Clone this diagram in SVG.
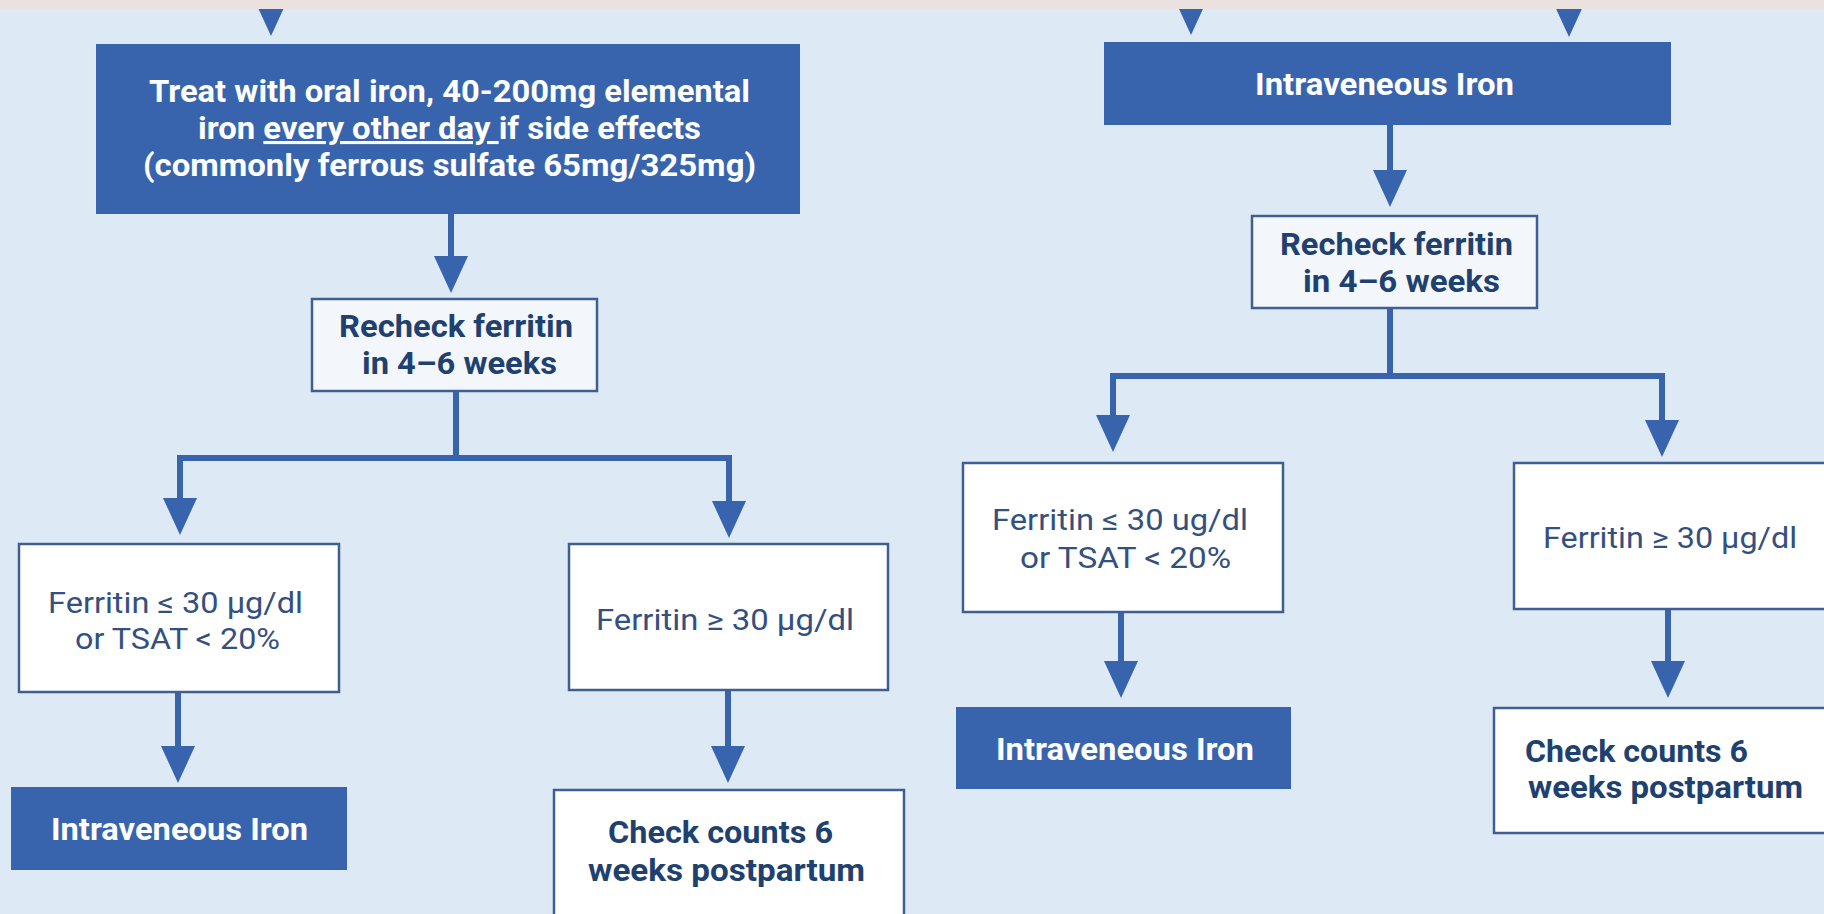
<svg xmlns="http://www.w3.org/2000/svg" width="1824" height="914" viewBox="0 0 1824 914">
<defs>
<marker id="ah" viewBox="0 0 37 34" markerWidth="37" markerHeight="34" markerUnits="userSpaceOnUse" refX="7" refY="17" orient="auto">
<path d="M0,0 L37,17 L0,34 Z" fill="#3864AD"/>
</marker>
<style>
.bg{fill:#DDEAF6}
.band{fill:#EBE2E0}
.solid{fill:#3864AD}
.white{fill:#FFFFFF;stroke:#3F5F93;stroke-width:2.5}
.pale{fill:#F3F7FC;stroke:#3F5F93;stroke-width:2.5}
.wt{font-family:Roboto,"Liberation Sans",sans-serif;font-weight:bold;font-size:31px;fill:#FFFFFF}
.nb{font-family:Roboto,"Liberation Sans",sans-serif;font-weight:bold;font-size:31px;fill:#1F416F}
.nr{font-family:Roboto,"Liberation Sans",sans-serif;font-size:30px;fill:#34507E}
.con{fill:none;stroke:#3864AD;stroke-width:6;stroke-linejoin:miter}
</style>
</defs>
<rect class="bg" x="0" y="0" width="1824" height="914"/>

<g id="connectors">
<path class="con" d="M271,-20 V6" marker-end="url(#ah)"/>
<path class="con" d="M451,214 V263" marker-end="url(#ah)"/>
<path class="con" d="M456,391 V458"/>
<path class="con" d="M456,458 H180 V505" marker-end="url(#ah)"/>
<path class="con" d="M456,458 H729 V508" marker-end="url(#ah)"/>
<path class="con" d="M178,692 V753" marker-end="url(#ah)"/>
<path class="con" d="M728,690 V753" marker-end="url(#ah)"/>
<path class="con" d="M1191,-20 V5" marker-end="url(#ah)"/>
<path class="con" d="M1569,-20 V7" marker-end="url(#ah)"/>
<path class="con" d="M1390,125 V177" marker-end="url(#ah)"/>
<path class="con" d="M1390,308 V376"/>
<path class="con" d="M1390,376 H1113 V422" marker-end="url(#ah)"/>
<path class="con" d="M1390,376 H1662 V427" marker-end="url(#ah)"/>
<path class="con" d="M1121,612 V668" marker-end="url(#ah)"/>
<path class="con" d="M1668,609 V668" marker-end="url(#ah)"/>
</g>

<rect class="band" x="0" y="0" width="1824" height="9"/>

<g id="treat">
<rect class="solid" x="96" y="44" width="704" height="170"/>
<text class="wt" x="149" y="102" textLength="601" lengthAdjust="spacingAndGlyphs">Treat with oral iron, 40-200mg elemental</text>
<text class="wt" x="198" y="139" textLength="503" lengthAdjust="spacingAndGlyphs">iron <tspan text-decoration="underline">every other day </tspan>if side effects</text>
<text class="wt" x="143" y="176" textLength="613" lengthAdjust="spacingAndGlyphs">(commonly ferrous sulfate 65mg/325mg)</text>
</g>

<g id="recheck-left">
<rect class="pale" x="312" y="299" width="285" height="92"/>
<text class="nb" x="339" y="337" textLength="234" lengthAdjust="spacingAndGlyphs">Recheck ferritin</text>
<text class="nb" x="362" y="374" textLength="195" lengthAdjust="spacingAndGlyphs">in 4–6 weeks</text>
</g>

<g id="ferritin-low-left">
<rect class="white" x="19" y="544" width="320" height="148"/>
<text class="nr" x="48" y="613" textLength="255" lengthAdjust="spacingAndGlyphs">Ferritin ≤ 30 µg/dl</text>
<text class="nr" x="75" y="649" textLength="205" lengthAdjust="spacingAndGlyphs">or TSAT &lt; 20%</text>
</g>

<g id="ferritin-high-left">
<rect class="white" x="569" y="544" width="319" height="146"/>
<text class="nr" x="596" y="630" textLength="258" lengthAdjust="spacingAndGlyphs">Ferritin ≥ 30 µg/dl</text>
</g>

<g id="iv-left">
<rect class="solid" x="11" y="787" width="336" height="83"/>
<text class="wt" x="51" y="840" textLength="257" lengthAdjust="spacingAndGlyphs">Intraveneous Iron</text>
</g>

<g id="check-left">
<rect class="white" x="554" y="790" width="350" height="140"/>
<text class="nb" x="608" y="843" textLength="225" lengthAdjust="spacingAndGlyphs">Check counts 6</text>
<text class="nb" x="588" y="881" textLength="277" lengthAdjust="spacingAndGlyphs">weeks postpartum</text>
</g>

<g id="iv-top-right">
<rect class="solid" x="1104" y="42" width="567" height="83"/>
<text class="wt" x="1255" y="95" textLength="259" lengthAdjust="spacingAndGlyphs">Intraveneous Iron</text>
</g>

<g id="recheck-right">
<rect class="pale" x="1252" y="216" width="285" height="92"/>
<text class="nb" x="1280" y="255" textLength="233" lengthAdjust="spacingAndGlyphs">Recheck ferritin</text>
<text class="nb" x="1303" y="292" textLength="197" lengthAdjust="spacingAndGlyphs">in 4–6 weeks</text>
</g>

<g id="ferritin-low-right">
<rect class="white" x="963" y="463" width="320" height="149"/>
<text class="nr" x="992" y="530" textLength="256" lengthAdjust="spacingAndGlyphs">Ferritin ≤ 30 ug/dl</text>
<text class="nr" x="1020" y="568" textLength="211" lengthAdjust="spacingAndGlyphs">or TSAT &lt; 20%</text>
</g>

<g id="ferritin-high-right">
<rect class="white" x="1514" y="463" width="330" height="146"/>
<text class="nr" x="1543" y="548" textLength="254" lengthAdjust="spacingAndGlyphs">Ferritin ≥ 30 µg/dl</text>
</g>

<g id="iv-right">
<rect class="solid" x="956" y="707" width="335" height="82"/>
<text class="wt" x="996" y="760" textLength="258" lengthAdjust="spacingAndGlyphs">Intraveneous Iron</text>
</g>

<g id="check-right">
<rect class="white" x="1494" y="708" width="350" height="125"/>
<text class="nb" x="1525" y="762" textLength="223" lengthAdjust="spacingAndGlyphs">Check counts 6</text>
<text class="nb" x="1528" y="798" textLength="275" lengthAdjust="spacingAndGlyphs">weeks postpartum</text>
</g>
</svg>
